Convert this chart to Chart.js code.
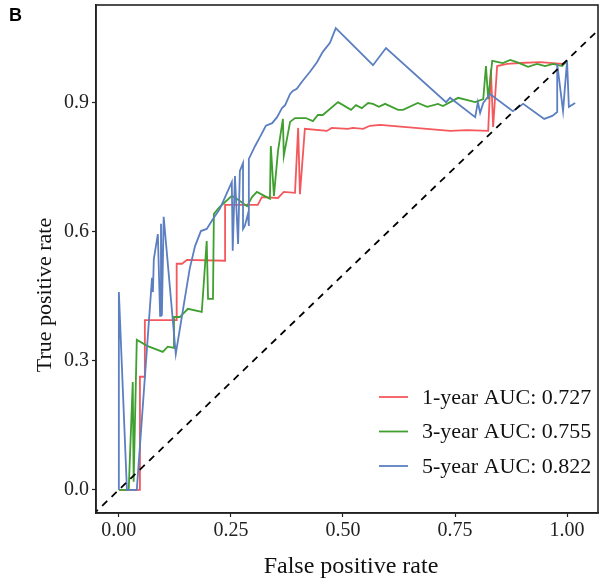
<!DOCTYPE html>
<html>
<head>
<meta charset="utf-8">
<script src="https://cdn.jsdelivr.net/npm/chart.js@4.4.1/dist/chart.umd.min.js"></script>
<style>
  html, body { margin: 0; padding: 0; background: #fff; }
  #wrap { width: 606px; height: 580px; }
</style>
</head>
<body>
<div id="wrap"><canvas id="roc" width="606" height="580"></canvas></div>
<script>
// ROC curves
const xTicks = [0, 0.25, 0.5, 0.75, 1];
const yTicks = [0, 0.3, 0.6, 0.9];
const seriesLabels = ['1-year AUC: 0.727', '3-year AUC: 0.755', '5-year AUC: 0.822'];
const seriesColors = ['#f5585c', '#3f9f2f', '#5b7fc1'];
const xTitle = 'False positive rate';
const yTitle = 'True positive rate';

const fpr1 = [0, 0.018, 0.047, 0.047, 0.058, 0.058, 0.129, 0.129, 0.141, 0.152, 0.237, 0.237, 0.310, 0.319, 0.355, 0.368, 0.393, 0.400, 0.404, 0.415, 0.464, 0.475, 0.511, 0.522, 0.545, 0.560, 0.583, 0.739, 0.777, 0.824, 0.830, 0.835, 0.844, 0.866, 0.895, 0.940, 0.989, 1.0];
const tpr1 = [0, 0, 0, 0.263, 0.263, 0.395, 0.395, 0.526, 0.526, 0.535, 0.533, 0.663, 0.663, 0.681, 0.679, 0.693, 0.691, 0.842, 0.688, 0.840, 0.835, 0.842, 0.840, 0.842, 0.840, 0.847, 0.849, 0.835, 0.837, 0.835, 0.979, 0.844, 0.986, 0.991, 0.993, 0.995, 0.991, 0.995];

const fpr3 = [0, 0.022, 0.031, 0.033, 0.040, 0.063, 0.098, 0.109, 0.123, 0.123, 0.136, 0.154, 0.185, 0.196, 0.199, 0.210, 0.212, 0.225, 0.252, 0.263, 0.286, 0.297, 0.308, 0.330, 0.337, 0.339, 0.346, 0.355, 0.366, 0.368, 0.382, 0.393, 0.417, 0.433, 0.444, 0.455, 0.489, 0.518, 0.529, 0.542, 0.556, 0.567, 0.580, 0.594, 0.623, 0.634, 0.667, 0.688, 0.712, 0.723, 0.757, 0.795, 0.813, 0.819, 0.824, 0.833, 0.857, 0.873, 0.888, 0.913, 0.933, 0.951, 0.969, 0.989, 1.0];
const tpr3 = [0, 0, 0.251, 0.019, 0.349, 0.335, 0.321, 0.333, 0.330, 0.402, 0.402, 0.421, 0.414, 0.579, 0.444, 0.444, 0.642, 0.658, 0.684, 0.677, 0.660, 0.681, 0.693, 0.681, 0.677, 0.800, 0.684, 0.788, 0.863, 0.777, 0.856, 0.865, 0.865, 0.858, 0.872, 0.872, 0.902, 0.884, 0.895, 0.888, 0.900, 0.898, 0.891, 0.898, 0.884, 0.884, 0.900, 0.891, 0.898, 0.893, 0.912, 0.902, 0.909, 0.986, 0.909, 0.998, 0.993, 1.0, 0.995, 0.984, 0.991, 0.986, 0.991, 0.986, 0.998];

const fpr5 = [0, 0, 0.018, 0.040, 0.074, 0.076, 0.078, 0.087, 0.092, 0.094, 0.096, 0.100, 0.127, 0.147, 0.158, 0.170, 0.183, 0.196, 0.210, 0.225, 0.252, 0.254, 0.259, 0.266, 0.270, 0.277, 0.277, 0.281, 0.288, 0.290, 0.290, 0.304, 0.315, 0.328, 0.342, 0.353, 0.364, 0.371, 0.382, 0.388, 0.397, 0.408, 0.426, 0.442, 0.455, 0.471, 0.484, 0.567, 0.596, 0.730, 0.739, 0.795, 0.801, 0.806, 0.813, 0.828, 0.879, 0.902, 0.949, 0.967, 0.978, 0.978, 0.991, 1.0, 1.004, 1.018];
const tpr5 = [0, 0.460, 0, 0, 0.493, 0.460, 0.537, 0.595, 0.405, 0.619, 0.405, 0.635, 0.316, 0.444, 0.514, 0.567, 0.602, 0.607, 0.630, 0.653, 0.716, 0.556, 0.730, 0.572, 0.742, 0.760, 0.607, 0.614, 0.642, 0.614, 0.770, 0.800, 0.821, 0.847, 0.853, 0.867, 0.888, 0.895, 0.921, 0.928, 0.933, 0.949, 0.972, 0.995, 1.019, 1.040, 1.074, 0.988, 1.028, 0.902, 0.912, 0.867, 0.902, 0.877, 0.900, 0.921, 0.881, 0.898, 0.863, 0.870, 0.879, 0.991, 0.881, 0.998, 0.891, 0.900];

const diagX = [-0.1, 1.2];

const pairs = (xs, ys) => xs.map((x, i) => ({ x: x, y: ys[i] }));

const serif = '"Liberation Serif", "Times New Roman", serif';

// frame, panel letter, axis titles and legend
const extras = {
    id: 'extras',
    afterDatasetsDraw(chart) {
        const ctx = chart.ctx;
        const a = chart.chartArea;
        ctx.save();
        ctx.strokeStyle = '#222';
        ctx.lineWidth = 1.6;
        ctx.strokeRect(a.left, a.top, a.right - a.left, a.bottom - a.top);

        ctx.font = 'bold 18px "Liberation Sans", Arial, sans-serif';
        ctx.fillStyle = '#000';
        ctx.textBaseline = 'top';
        ctx.fillText('B', 9, 7);

        // axis titles
        ctx.fillStyle = '#111';
        ctx.textBaseline = 'alphabetic';
        ctx.textAlign = 'center';
        ctx.font = '24px ' + serif;
        ctx.fillText(xTitle, 351, 573);
        ctx.save();
        ctx.translate(51, 295);
        ctx.rotate(-Math.PI / 2);
        ctx.font = '22px ' + serif;
        ctx.fillText(yTitle, 0, 0);
        ctx.restore();

        // legend
        ctx.textAlign = 'left';
        ctx.font = '22px ' + serif;
        ctx.textBaseline = 'middle';
        seriesLabels.forEach((lab, i) => {
            const y = 397 + i * 34.5;
            ctx.strokeStyle = seriesColors[i];
            ctx.lineWidth = 1.8;
            ctx.beginPath();
            ctx.moveTo(379, y);
            ctx.lineTo(408, y);
            ctx.stroke();
            ctx.fillStyle = '#111';
            ctx.fillText(lab, 422, y + 1);
        });
        ctx.restore();
    }
};

new Chart(document.getElementById('roc'), {
    type: 'line',
    data: {
        datasets: [
            {
                data: pairs(diagX, diagX),
                borderColor: '#000',
                borderWidth: 1.8,
                borderDash: [7, 6],
                clip: 0
            },
            { data: pairs(fpr5, tpr5), borderColor: seriesColors[2], borderWidth: 1.8 },
            { data: pairs(fpr3, tpr3), borderColor: seriesColors[1], borderWidth: 1.8 },
            { data: pairs(fpr1, tpr1), borderColor: seriesColors[0], borderWidth: 1.8 }
        ]
    },
    plugins: [extras],
    options: {
        responsive: false,
        animation: false,
        elements: { point: { radius: 0 }, line: { tension: 0 } },
        layout: { padding: { left: 0, top: 5, right: 8, bottom: 0 } },
        plugins: { legend: { display: false }, tooltip: { enabled: false } },
        scales: {
            x: {
                type: 'linear',
                min: -0.051,
                max: 1.069,
                afterBuildTicks: s => { s.ticks = xTicks.map(v => ({ value: v })); },
                afterFit: s => { s.height = 67; s.paddingLeft = 0; s.paddingRight = 0; },
                grid: { drawOnChartArea: false, drawTicks: true, tickLength: 4, tickColor: '#222', tickWidth: 1.2 },
                border: { display: true, color: '#222', width: 1.6 },
                ticks: {
                    color: '#222',
                    padding: 2,
                    maxRotation: 0,
                    font: { family: serif, size: 20 },
                    callback: v => v.toFixed(2)
                }
            },
            y: {
                type: 'linear',
                min: -0.054,
                max: 1.128,
                afterBuildTicks: s => { s.ticks = yTicks.map(v => ({ value: v })); },
                afterFit: s => { s.width = 96; s.paddingTop = 0; s.paddingBottom = 0; },
                grid: { drawOnChartArea: false, drawTicks: true, tickLength: 4, tickColor: '#222', tickWidth: 1.2 },
                border: { display: true, color: '#222', width: 1.6 },
                ticks: {
                    color: '#222',
                    padding: 3,
                    font: { family: serif, size: 20 },
                    callback: v => v.toFixed(1)
                }
            }
        }
    }
});
</script>
</body>
</html>
